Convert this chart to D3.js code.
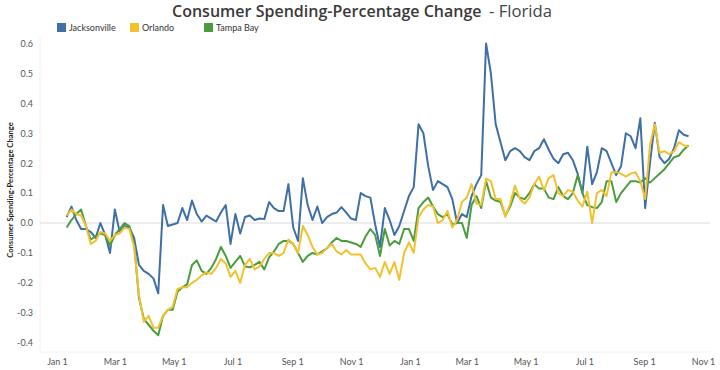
<!DOCTYPE html>
<html>
<head>
<meta charset="utf-8">
<script src="https://cdn.jsdelivr.net/npm/d3@7"></script>
<style>
  body { margin: 0; background: #fff; }
  svg { font-family: "Lato", "Open Sans", sans-serif; }
</style>
</head>
<body>
<div id="chart"></div>
<script>
// canvas size
var svgWidth = 720;
var svgHeight = 370;

// cities in legend order
var cities = ["Jacksonville", "Orlando", "Tampa Bay"];
var cityColors = ["#3f6fa6", "#f2c22e", "#4b9b3f"];

// values are sampled every 5 days starting Jan 11, 2020
var sampleStart = new Date(2020, 0, 11);
var sampleStepDays = 5;

var jacksonville = [
  0.02, 0.055, 0.01, -0.02, -0.02, -0.03, -0.05, 0.0, -0.04, -0.10,
  0.045, -0.03, -0.01, -0.015, -0.05, -0.14, -0.16, -0.17, -0.185, -0.235,
  0.06, -0.01, -0.005, 0.0, 0.05, 0.01, 0.075, 0.03, 0.005, 0.025,
  0.015, 0.005, 0.035, 0.06, -0.07, 0.03, -0.035, 0.02, 0.025, 0.01,
  0.015, 0.013, 0.07, 0.05, 0.04, 0.04, 0.13, -0.015, -0.06, 0.15,
  0.06, 0.01, 0.055, 0.0, 0.02, 0.03, 0.035, 0.053, 0.035, 0.015,
  0.01, 0.1, 0.09, 0.085, -0.005, -0.08, 0.05, 0.01, -0.04, -0.01,
  0.04, 0.09, 0.12, 0.33, 0.30, 0.19, 0.11, 0.14, 0.13, 0.12,
  0.08, 0.0, 0.03, 0.02, 0.09, 0.13, 0.16, 0.6, 0.5, 0.33,
  0.27, 0.21, 0.24, 0.25, 0.24, 0.22, 0.21, 0.24, 0.25, 0.28,
  0.245, 0.215, 0.2, 0.23, 0.235, 0.21, 0.165, 0.1, 0.255, 0.13,
  0.17, 0.25, 0.24, 0.2, 0.16, 0.19, 0.3, 0.29, 0.25, 0.35,
  0.05, 0.2, 0.335, 0.22, 0.2, 0.215, 0.25, 0.31, 0.295, 0.29
];

var orlando = [
  0.025, 0.045, 0.03, 0.025, -0.01, -0.07, -0.06, -0.03, -0.035, -0.06,
  -0.04, -0.035, -0.015, -0.02, -0.08, -0.24, -0.33, -0.31, -0.35, -0.35,
  -0.31, -0.29, -0.28, -0.22, -0.215, -0.215, -0.2, -0.19, -0.175, -0.165,
  -0.17, -0.15, -0.12, -0.135, -0.18, -0.16, -0.2, -0.14, -0.12, -0.155,
  -0.145, -0.12, -0.1, -0.1, -0.11, -0.1, -0.055, -0.07, -0.1, -0.01,
  -0.04, -0.08, -0.105, -0.1, -0.083, -0.07, -0.095, -0.105, -0.09, -0.105,
  -0.105, -0.105, -0.135, -0.155, -0.15, -0.18, -0.13, -0.17, -0.13, -0.19,
  -0.1, -0.065, -0.1, 0.02, 0.045, 0.06, 0.055, 0.0, 0.01, 0.04,
  -0.015, 0.01, 0.07, 0.085, 0.13, 0.065, 0.06, 0.148, 0.14, 0.08,
  0.08, 0.02, 0.065, 0.125, 0.08, 0.065, 0.085, 0.13, 0.155, 0.11,
  0.15, 0.16, 0.1, 0.09, 0.11, 0.105, 0.075, 0.055, 0.105, 0.0,
  0.1, 0.11, 0.09, 0.17, 0.17, 0.165, 0.155, 0.165, 0.17, 0.14,
  0.08, 0.26, 0.33, 0.235, 0.24, 0.23, 0.24, 0.27, 0.26, 0.255
];

var tampaBay = [
  -0.015, 0.01, 0.03, 0.045, -0.01, -0.055, -0.045, -0.035, -0.04, -0.075,
  -0.04, -0.02, 0.0, -0.01, -0.07, -0.25, -0.32, -0.34, -0.36, -0.375,
  -0.31, -0.29, -0.29, -0.23, -0.215, -0.205, -0.14, -0.125, -0.16, -0.17,
  -0.15, -0.12, -0.08, -0.11, -0.15, -0.13, -0.11, -0.145, -0.148, -0.14,
  -0.13, -0.155, -0.115, -0.095, -0.07, -0.06, -0.06, -0.07, -0.1, -0.13,
  -0.11, -0.1, -0.105, -0.095, -0.085, -0.065, -0.05, -0.06, -0.06, -0.065,
  -0.07, -0.08, -0.045, -0.02, -0.04, -0.11, -0.02, -0.075, -0.06, -0.07,
  -0.02, -0.02, -0.06, 0.05, 0.07, 0.085, 0.055, 0.03, 0.02, 0.03,
  -0.005, 0.0, 0.0, -0.05, 0.06, 0.09, 0.05, 0.14, 0.085, 0.075,
  0.07, 0.025, 0.055, 0.1, 0.085, 0.08, 0.1, 0.13, 0.115, 0.115,
  0.085, 0.08, 0.12, 0.09, 0.08, 0.1, 0.16, 0.1, 0.06, 0.053,
  0.05, 0.07, 0.14, 0.14, 0.07, 0.1, 0.12, 0.14, 0.14, 0.135,
  0.15, 0.135, 0.15, 0.165, 0.18, 0.2, 0.22, 0.225, 0.245, 0.26
];

// axis ticks
var yTicks = [-0.4, -0.3, -0.2, -0.1, 0.0, 0.1, 0.2, 0.3, 0.4, 0.5, 0.6];
var xTickLabels = ["Jan 1", "Mar 1", "May 1", "Jul 1", "Sep 1", "Nov 1",
                   "Jan 1", "Mar 1", "May 1", "Jul 1", "Sep 1", "Nov 1"];
var xTickDates = d3.timeMonth.range(new Date(2020, 0, 1), new Date(2021, 11, 1), 2);

var seriesValues = [jacksonville, orlando, tampaBay];

// build the series table
var series = cities.map(function(name, k) {
  return {
    name: name,
    color: cityColors[k],
    values: seriesValues[k].map(function(v, i) {
      return { date: d3.timeDay.offset(sampleStart, i * sampleStepDays), value: v };
    })
  };
});

var svg = d3.select("#chart")
  .append("svg")
  .attr("width", svgWidth)
  .attr("height", svgHeight);

// scales
var xScale = d3.scaleTime()
  .domain([new Date(2020, 0, 1), new Date(2021, 10, 1)])
  .range([57, 703]);

var yScale = d3.scaleLinear()
  .domain([-0.4, 0.6])
  .range([342.7, 43.5]);

// faint frame lines
svg.append("line")
  .attr("x1", 40).attr("x2", 40)
  .attr("y1", 36).attr("y2", 352)
  .attr("stroke", "#f2f2f2");

svg.append("line")
  .attr("x1", 40).attr("x2", 710)
  .attr("y1", 352).attr("y2", 352)
  .attr("stroke", "#f2f2f2");

// zero line
svg.append("line")
  .attr("x1", 40).attr("x2", 710)
  .attr("y1", yScale(0)).attr("y2", yScale(0))
  .attr("stroke", "#dcdcdc");

// y axis
var leftAxis = d3.axisLeft(yScale)
  .tickValues(yTicks)
  .tickSize(0)
  .tickPadding(3)
  .tickFormat(function(d) { return d.toFixed(1); });

var yAxis = svg.append("g")
  .attr("transform", "translate(36, 0)")
  .call(leftAxis);
yAxis.select(".domain").remove();
yAxis.selectAll("text")
  .attr("font-family", "Lato, sans-serif")
  .attr("font-size", 9)
  .attr("fill", "#555");

// x axis
var bottomAxis = d3.axisBottom(xScale)
  .tickValues(xTickDates)
  .tickSize(0)
  .tickPadding(2)
  .tickFormat(function(d, i) { return xTickLabels[i]; });

var xAxis = svg.append("g")
  .attr("transform", "translate(0, 357)")
  .call(bottomAxis);
xAxis.select(".domain").remove();
xAxis.selectAll("text")
  .attr("font-family", "Lato, sans-serif")
  .attr("font-size", 9)
  .attr("fill", "#555");

// lines
var line = d3.line()
  .x(function(d) { return xScale(d.date); })
  .y(function(d) { return yScale(d.value); });

var drawOrder = [0, 2, 1];
drawOrder.forEach(function(k) {
  svg.append("path")
    .datum(series[k].values)
    .attr("fill", "none")
    .attr("stroke", series[k].color)
    .attr("stroke-width", 2)
    .attr("stroke-linejoin", "round")
    .attr("d", line);
});

// fit a text element to a target width
function fitWidth(sel, target) {
  var w = sel.node().getComputedTextLength();
  var fs = parseFloat(sel.attr("font-size"));
  sel.attr("font-size", fs * target / w);
}

// title
var title = svg.append("text")
  .attr("x", 172)
  .attr("y", 17)
  .attr("font-family", "Open Sans, sans-serif")
  .attr("font-weight", 600)
  .attr("font-size", 18)
  .attr("fill", "#3a3a3a")
  .text("Consumer Spending-Percentage Change");
fitWidth(title, 310);

var subTitle = svg.append("text")
  .attr("x", 489)
  .attr("y", 17)
  .attr("font-family", "Open Sans, sans-serif")
  .attr("font-size", 17)
  .attr("fill", "#444")
  .text("- Florida");
fitWidth(subTitle, 63);

// y axis title
var yTitle = svg.append("text")
  .attr("transform", "translate(13, 190) rotate(-90)")
  .attr("text-anchor", "middle")
  .attr("font-family", "Lato, sans-serif")
  .attr("font-weight", 700)
  .attr("font-size", 8.5)
  .attr("fill", "#222")
  .text("Consumer Spending-Percentage Change");
fitWidth(yTitle, 136);

// legend
var legendX = [57, 130, 204];
var legend = svg.selectAll(".legend")
  .data(series)
  .enter()
  .append("g")
  .attr("class", "legend")
  .attr("transform", function(d, i) { return "translate(" + legendX[i] + ", 23)"; });

legend.append("rect")
  .attr("width", 9)
  .attr("height", 9)
  .attr("fill", function(d) { return d.color; });

legend.append("text")
  .attr("x", 12)
  .attr("y", 8)
  .attr("font-family", "Lato, sans-serif")
  .attr("font-size", 9)
  .attr("fill", "#333")
  .text(function(d) { return d.name; });
</script>
</body>
</html>
